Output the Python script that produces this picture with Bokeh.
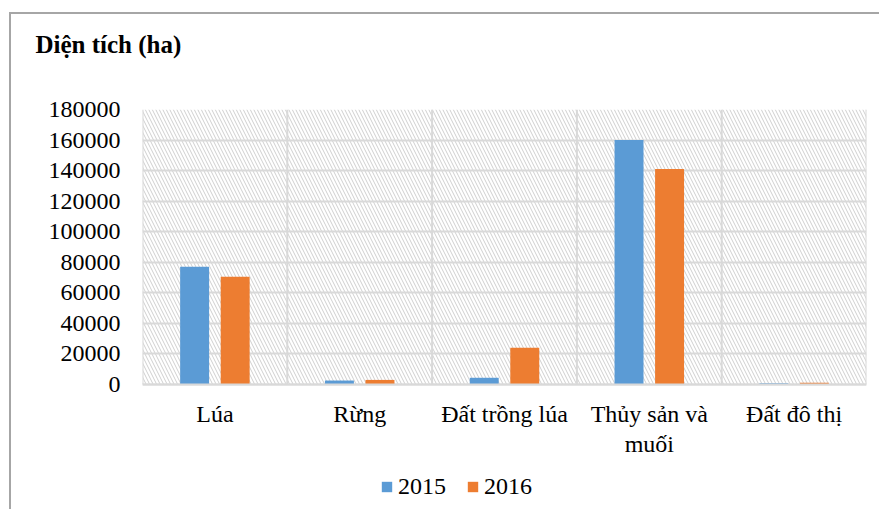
from bokeh.plotting import figure
from bokeh.models import (ColumnDataSource, Range1d, FixedTicker, NumeralTickFormatter,
                          BoxAnnotation, Legend, LegendItem, LinearAxis, Title)
from bokeh.transform import dodge
from bokeh.embed import file_html
from bokeh.resources import INLINE

categories = ["Lúa", "Rừng", "Đất trồng lúa", "Thủy sản và muối", "Đất đô thị"]
tick_labels_line1 = ["Lúa", "Rừng", "Đất trồng lúa", "Thủy sản và", "Đất đô thị"]
tick_labels_line2 = ["", "", "", "muối", ""]
series_names = ["2015", "2016"]
values_2015 = [77000, 2600, 4400, 160000, 800]
values_2016 = [70500, 3000, 24000, 141000, 1100]
y_ticks = [0, 20000, 40000, 60000, 80000, 100000, 120000, 140000, 160000, 180000]
y_title = "Diện tích (ha)"

BLUE = "#5B9BD5"
ORANGE = "#ED7D31"
GRID = "#d9d9d9"
FRAME_LINE = "2px solid #a6a6a6"
FONT = "Liberation Serif"

# the frame extends below zero so that the legend can sit inside it
PLOT_PX = 275
EXTRA_PX = 125
y_top = y_ticks[-1]
y_bottom = -y_top * EXTRA_PX / PLOT_PX

xs = [i + 0.5 for i in range(len(categories))]
bounds = list(range(len(categories) + 1))
src = ColumnDataSource(dict(x=xs, cat=categories, v2015=values_2015, v2016=values_2016))
sep = ColumnDataSource(dict(x=bounds, y0=[y_ticks[0]] * len(bounds), y1=[y_top] * len(bounds)))

p = figure(frame_width=724, frame_height=PLOT_PX + EXTRA_PX, output_backend="svg",
           toolbar_location=None, title=None,
           x_range=Range1d(0, len(categories)), y_range=Range1d(y_bottom, y_top),
           min_border_left=131, min_border_right=13, min_border_top=95, min_border_bottom=0)
p.margin = (12, 0, 0, 9)
p.styles = {"border-left": FRAME_LINE, "border-top": FRAME_LINE}
p.outline_line_color = None
p.background_fill_color = "white"
p.border_fill_color = "white"

hatch = BoxAnnotation(bottom=y_ticks[0], top=y_top,
                      fill_color="white", fill_alpha=1.0, line_color=None,
                      hatch_pattern="\\", hatch_color="#cfcfcf", hatch_scale=7,
                      hatch_weight=1, level="image")
p.add_layout(hatch)

# vertical category separators (only over the plotting area)
p.segment(x0="x", y0="y0", x1="x", y1="y1", source=sep, line_color=GRID, line_width=2,
          level="underlay")

r1 = p.vbar(x=dodge("x", -0.14, range=p.x_range), top="v2015", width=0.2, source=src,
            fill_color=BLUE, line_color=None)
r2 = p.vbar(x=dodge("x", 0.14, range=p.x_range), top="v2016", width=0.2, source=src,
            fill_color=ORANGE, line_color=None)

def style_axis(ax, standoff):
    ax.major_tick_line_color = None
    ax.minor_tick_line_color = None
    ax.major_label_text_font = FONT
    ax.major_label_text_font_size = "24px"
    ax.major_label_text_color = "black"
    ax.major_label_standoff = standoff

# x axis at y = 0, first line of labels
xa = p.below[0]
xa.ticker = FixedTicker(ticks=xs)
xa.major_label_overrides = {x: lab for x, lab in zip(xs, tick_labels_line1)}
xa.axis_line_color = GRID
xa.axis_line_width = 2
xa.fixed_location = 0
style_axis(xa, 10)

# second line of wrapped category labels
xa2 = LinearAxis(ticker=FixedTicker(ticks=xs),
                 major_label_overrides={x: lab for x, lab in zip(xs, tick_labels_line2)},
                 axis_line_color=None, fixed_location=0)
style_axis(xa2, 40)
p.add_layout(xa2, "below")

ya = p.left[0]
ya.ticker = FixedTicker(ticks=y_ticks)
ya.formatter = NumeralTickFormatter(format="0")
ya.axis_line_color = None
style_axis(ya, 16)

# grids
p.xgrid.visible = False
p.ygrid.ticker = FixedTicker(ticks=y_ticks)
p.ygrid.grid_line_color = GRID
p.ygrid.grid_line_width = 2

# spacer + title above the frame
spacer = Title(text=" ", text_font=FONT, text_font_size="25px", standoff=18)
p.add_layout(spacer, "above")
ttl = Title(text=y_title, text_font=FONT, text_font_size="25px", text_font_style="bold",
            text_color="black", align="left", offset=-107, standoff=10)
p.add_layout(ttl, "above")

legend = Legend(items=[LegendItem(label=series_names[0], renderers=[r1]),
                       LegendItem(label=series_names[1], renderers=[r2])],
                orientation="horizontal", location=(238, 9),
                label_text_font=FONT, label_text_font_size="24px", label_text_color="black",
                glyph_width=13, glyph_height=13, label_standoff=5, spacing=20,
                border_line_color=None, background_fill_alpha=0, margin=0, padding=0)
p.add_layout(legend)

open("out.html", "w").write(file_html(p, INLINE))
